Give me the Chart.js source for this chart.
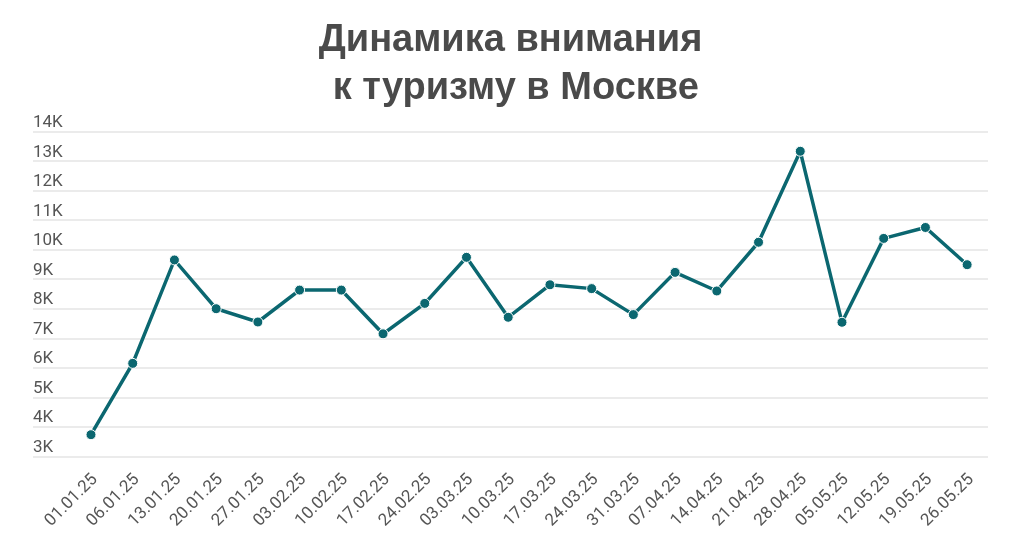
<!DOCTYPE html>
<html>
<head>
<meta charset="utf-8">
<script src="https://cdn.jsdelivr.net/npm/chart.js@4"></script>
<style>
  body { margin: 0; background: #fff; }
  #wrap { width: 1015px; height: 555px; }
</style>
</head>
<body>
<div id="wrap"><canvas id="tourismChart"></canvas></div>
<script>
// Weekly dates and attention values
const dates = ["01.01.25", "06.01.25", "13.01.25", "20.01.25", "27.01.25", "03.02.25", "10.02.25",
  "17.02.25", "24.02.25", "03.03.25", "10.03.25", "17.03.25", "24.03.25", "31.03.25", "07.04.25",
  "14.04.25", "21.04.25", "28.04.25", "05.05.25", "12.05.25", "19.05.25", "26.05.25"];
const attention = [3745, 6160, 9660, 8010, 7560, 8640, 8640, 7160, 8190, 9750, 7720, 8820,
  8690, 7810, 9240, 8610, 10260, 13340, 7550, 10390, 10760, 9500];
const titleLines = ["Динамика внимания", " к туризму в Москве"];

const teal = "#0b6770";

const points = attention.map((v, i) => ({ x: i, y: v }));

const ctx = document.getElementById("tourismChart").getContext("2d");
new Chart(ctx, {
  type: "line",
  data: {
    datasets: [{
      data: points,
      borderColor: teal,
      backgroundColor: teal,
      borderWidth: 3.5,
      pointRadius: 5,
      pointBorderColor: "#fff",
      pointBorderWidth: 1,
      tension: 0
    }]
  },
  options: {
    responsive: true,
    maintainAspectRatio: false,
    animation: false,
    layout: { padding: { left: 33, right: 27, top: 0, bottom: 19 } },
    plugins: {
      legend: { display: false },
      tooltip: { enabled: false },
      title: {
        display: true,
        text: titleLines,
        color: "#4a4a4a",
        font: { family: "'Liberation Sans'", size: 38, weight: "bold", lineHeight: 1.26 },
        padding: { top: 17, bottom: 19 }
      }
    },
    scales: {
      x: {
        type: "linear",
        min: -1.39,
        max: 21.5,
        grid: { display: false },
        border: { display: false },
        ticks: {
          stepSize: 1,
          autoSkip: false,
          includeBounds: false,
          maxRotation: 45,
          minRotation: 45,
          padding: 5,
          labelOffset: 4,
          color: "#555",
          font: { family: "Roboto", size: 17 },
          callback: v => dates[v] ?? ""
        }
      },
      y: {
        min: 3000,
        max: 14000,
        grid: { color: "#ebebeb", lineWidth: 2, drawTicks: false },
        border: { display: false },
        ticks: {
          stepSize: 1000,
          mirror: true,
          padding: 0,
          labelOffset: -9,
          color: "#555",
          font: { family: "Roboto", size: 17 },
          callback: v => (v / 1000) + "K"
        }
      }
    }
  }
});
</script>
</body>
</html>
